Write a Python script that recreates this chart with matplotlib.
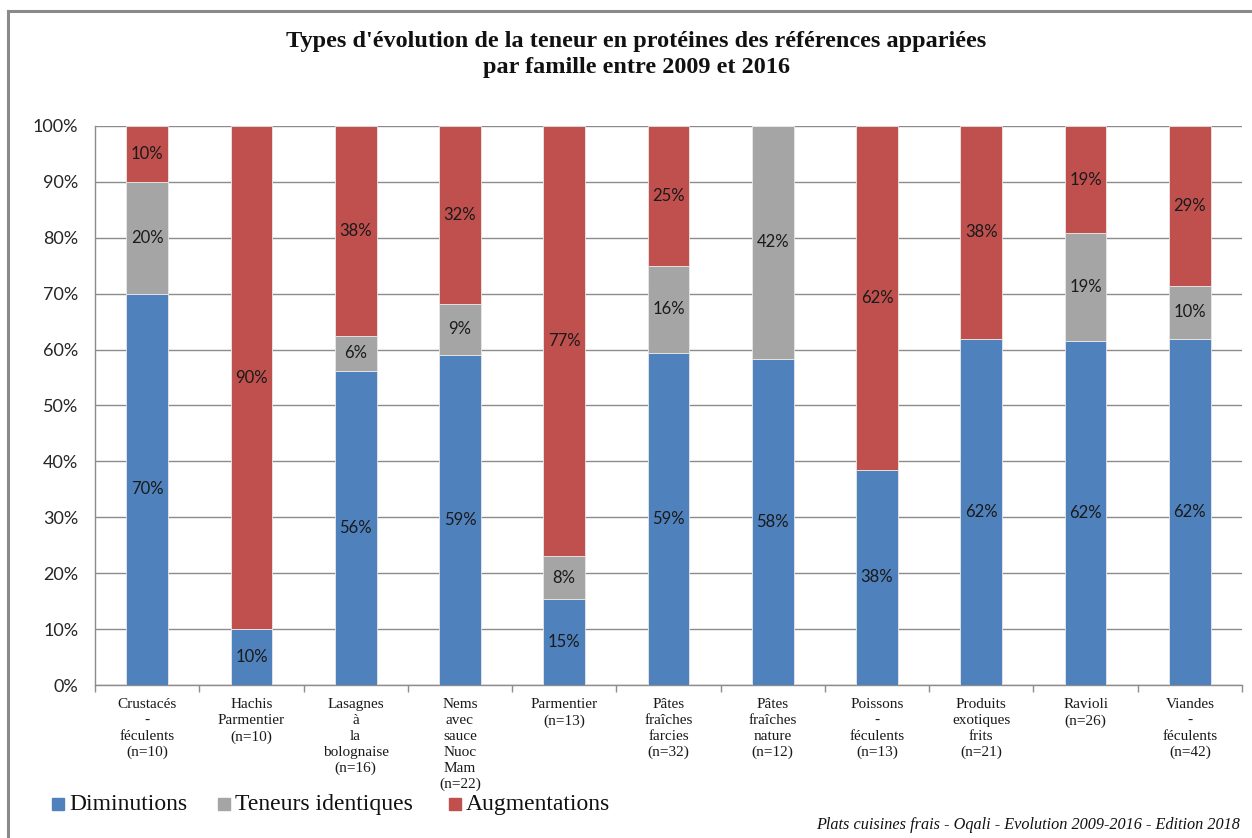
import matplotlib
matplotlib.use("Agg")
import matplotlib.pyplot as plt
from matplotlib.lines import Line2D
from matplotlib.patches import Rectangle
import numpy as np

# Product families and number of paired references per family
familles = [
    "Crustacés\n-\nféculents",
    "Hachis\nParmentier",
    "Lasagnes\nà\nla\nbolognaise",
    "Nems\navec\nsauce\nNuoc\nMam",
    "Parmentier",
    "Pâtes\nfraîches\nfarcies",
    "Pâtes\nfraîches\nnature",
    "Poissons\n-\nféculents",
    "Produits\nexotiques\nfrits",
    "Ravioli",
    "Viandes\n-\nféculents",
]
effectifs = [10, 10, 16, 22, 13, 32, 12, 13, 21, 26, 42]

# Number of references per type of evolution
diminutions = [7, 1, 9, 13, 2, 19, 7, 5, 13, 16, 26]
identiques = [2, 0, 1, 2, 1, 5, 5, 0, 0, 5, 4]
augmentations = [1, 9, 6, 7, 10, 8, 0, 8, 8, 5, 12]

series_noms = ["Diminutions", "Teneurs identiques", "Augmentations"]
couleurs = ["#4F81BD", "#A5A5A5", "#C0504D"]

n = np.array(effectifs, dtype=float)
parts = [np.array(s) / n * 100 for s in (diminutions, identiques, augmentations)]

W, H, DPI = 1252, 838, 100
fig = plt.figure(figsize=(W / DPI, H / DPI), dpi=DPI)
fig.patch.set_facecolor("white")

# Frame around the chart (top and left edges)
fig.add_artist(Line2D([8 / W, 1], [1 - 11 / H, 1 - 11 / H], color="#8a8a8a", lw=2.2))
fig.add_artist(Line2D([8 / W, 8 / W], [0, 1 - 11 / H], color="#8a8a8a", lw=2.2))

ax = fig.add_axes([95 / W, 1 - 685 / H, (1242 - 95) / W, (685 - 126) / H])

x = np.arange(len(familles))
bas = np.zeros(len(familles))
for vals, coul in zip(parts, couleurs):
    ax.bar(x, vals, bottom=bas, width=0.40, color=coul, edgecolor="#e8e8e8",
           linewidth=0.6, zorder=3)
    for xi, b, v in zip(x, bas, vals):
        if v > 0:
            ax.text(xi, b + v / 2, f"{v:.0f}%", ha="center", va="center",
                    fontsize=12, family="Lato", color="#1a1a1a", zorder=4)
    bas += vals

ax.set_xlim(-0.5, len(familles) - 0.5)
ax.set_ylim(0, 100)
ax.set_yticks(np.arange(0, 101, 10))
ax.set_yticklabels([f"{t}%" for t in range(0, 101, 10)], family="Lato",
                   fontsize=13, color="#262626")
ax.yaxis.grid(True, color="#8c8c8c", lw=1.0, zorder=0)
ax.set_axisbelow(True)

ax.set_xticks(x)
ax.set_xticklabels([f"{f}\n(n={e})" for f, e in zip(familles, effectifs)],
                   family="Liberation Serif", fontsize=11, color="#1a1a1a",
                   linespacing=1.29, va="top")
ax.tick_params(axis="x", length=0, pad=9.5)
ax.tick_params(axis="y", length=0, pad=12)
ax.set_xticks(np.arange(-0.5, len(familles)), minor=True)
ax.tick_params(axis="x", which="minor", length=5, color="#8c8c8c", width=1)

for s in ("top", "right"):
    ax.spines[s].set_visible(False)
for s in ("left", "bottom"):
    ax.spines[s].set_color("#8c8c8c")
    ax.spines[s].set_linewidth(1.0)

# Title
fig.text(636 / W, 1 - 41 / H,
         "Types d'évolution de la teneur en protéines des références appariées",
         ha="center", va="center", family="Liberation Serif", weight="bold",
         fontsize=17.5, color="#111111")
fig.text(636 / W, 1 - 67 / H, "par famille entre 2009 et 2016",
         ha="center", va="center", family="Liberation Serif", weight="bold",
         fontsize=17.5, color="#111111")

# Legend
leg_x = [52, 218, 449]
for lx, nom, coul in zip(leg_x, series_noms, couleurs):
    fig.add_artist(Rectangle((lx / W, 1 - 810 / H), 12 / W, 12 / H,
                             transform=fig.transFigure, color=coul))
    fig.text((lx + 17) / W, 1 - 804 / H, nom, ha="left", va="center",
             family="Liberation Serif", fontsize=17, color="#111111")

# Source
fig.text(1240 / W, 1 - 825 / H,
         "Plats cuisines frais - Oqali - Evolution 2009-2016 - Edition 2018",
         ha="right", va="center", family="Liberation Serif", style="italic",
         fontsize=11.7, color="#111111")

fig.savefig("out.png", dpi=DPI, facecolor="white")
